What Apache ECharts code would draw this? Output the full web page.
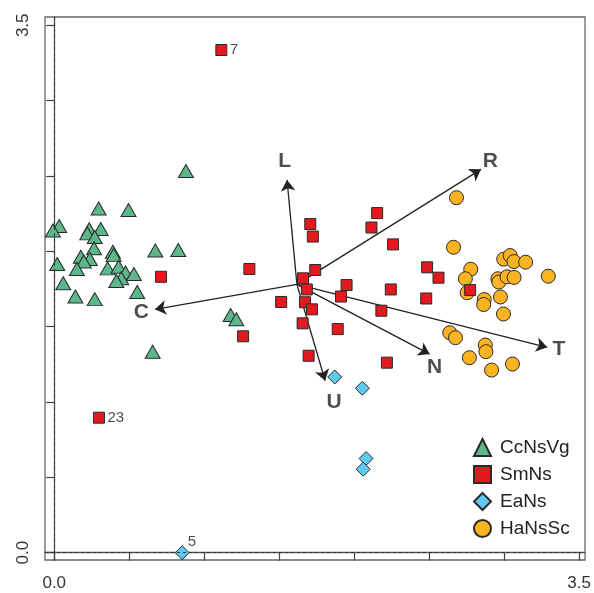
<!DOCTYPE html>
<html><head><meta charset="utf-8">
<script src="https://cdn.jsdelivr.net/npm/echarts@6/dist/echarts.min.js"></script>
<style>html,body{margin:0;padding:0;background:#fff}#c{width:594px;height:593px}</style>
</head><body><div id="c"></div>
<script>
const groupNames = ['CcNsVg', 'SmNs', 'EaNs', 'HaNsSc'];

const ccnsvgPoints = [
  [0.878,2.533],[0.296,2.284],[0.495,2.274],[0.033,2.168],[-0.009,2.138],[0.233,2.146],
  [0.310,2.148],[0.220,2.119],[0.270,2.095],[0.265,2.020],[0.391,1.997],[0.396,1.975],
  [0.674,2.005],[0.827,2.009],[0.020,1.916],[0.177,1.964],[0.237,1.949],[0.197,1.932],
  [0.151,1.883],[0.356,1.887],[0.429,1.898],[0.475,1.859],[0.531,1.849],[0.447,1.821],
  [0.414,1.803],[0.060,1.788],[0.553,1.730],[0.141,1.700],[0.270,1.683],[1.176,1.577],
  [1.214,1.549],[0.656,1.334]
];
const smnsPoints = [
  [1.114,3.336],[0.712,1.831],[1.301,1.883],[1.513,1.664],[1.259,1.436],[0.298,0.896],
  [2.153,2.254],[1.707,2.181],[2.115,2.158],[1.724,2.098],[2.259,2.046],[1.740,1.876],
  [1.659,1.821],[1.684,1.747],[1.949,1.776],[1.912,1.700],[2.244,1.747],[1.672,1.662],
  [1.718,1.615],[2.181,1.606],[1.656,1.522],[1.890,1.484],[1.696,1.307],[2.218,1.261],
  [2.486,1.894],[2.562,1.825],[2.773,1.743],[2.480,1.687]
];
const eansPoints = [
  [0.853,0.000],[1.870,1.166],[2.054,1.091],[2.079,0.625],[2.060,0.554]
];
const hanssccPoints = [
  [2.682,2.356],[2.662,2.027],[2.997,1.948],[3.040,1.972],[3.065,1.932],[3.143,1.928],
  [3.294,1.835],[2.777,1.881],[2.741,1.818],[2.958,1.818],[2.964,1.796],[3.019,1.831],
  [3.066,1.827],[2.753,1.725],[2.867,1.680],[2.863,1.647],[2.975,1.697],[2.995,1.584],
  [2.637,1.460],[2.675,1.427],[2.874,1.378],[2.878,1.334],[2.768,1.294],[3.055,1.252],
  [2.916,1.212]
];

const pointLabelTexts = ['7', '23', '5'];
const pointLabelCoords = [[1.114,3.336],[0.298,0.896],[0.853,0.000]];

const arrowNames = ['L', 'R', 'C', 'T', 'N', 'U'];
const arrowOrigin = [1.618, 1.781];
const arrowTips = [[1.552,2.473],[2.845,2.544],[0.672,1.615],[3.287,1.363],[2.503,1.318],[1.806,1.141]];
const arrowLabelCoords = [[1.537,2.595],[2.907,2.595],[0.580,1.599],[3.365,1.350],[2.536,1.234],[1.866,1.002]];

const axisTickValues = [0, 0.5, 1.0, 1.5, 2.0, 2.5, 3.0, 3.5];
const axisLabelValues = [0, 3.5];

const chart = echarts.init(document.getElementById('c'), null, {renderer: 'canvas'});
const FONT = '"Liberation Sans", Arial, Helvetica, sans-serif';
const border = {borderColor: '#2a2a2a', borderWidth: 1, opacity: 1};

function axisCommon(min, max) {
  return {
    type: 'value', min: min, max: max,
    splitLine: {show: false},
    axisLine: {show: true, lineStyle: {color: '#555', width: 1.3}},
    axisTick: {show: true, customValues: axisTickValues, length: 8, lineStyle: {color: '#444', width: 1.2}},
    axisLabel: {show: true, customValues: axisLabelValues, formatter: v => Number(v).toFixed(1),
      fontFamily: FONT, fontSize: 17, color: '#333'}
  };
}
const xAxis = axisCommon(-0.0617, 3.539);
xAxis.axisLabel.margin = 15;
const yAxis = axisCommon(-0.0484, 3.555);
yAxis.axisLabel.rotate = 90;
yAxis.axisLabel.margin = 13;

const option = {
  animation: false,
  backgroundColor: '#ffffff',
  grid: {left: 45, right: 6, top: 17, bottom: 33, show: true, borderColor: '#666', borderWidth: 1.3, backgroundColor: 'transparent'},
  xAxis: xAxis,
  yAxis: yAxis,
  legend: {
    orient: 'vertical', left: 468, top: 433,
    itemWidth: 17, itemHeight: 17, itemGap: 8,
    data: groupNames,
    textStyle: {fontFamily: FONT, fontSize: 19, color: '#222', padding: [0, 0, 0, 4]},
    selectedMode: false
  },
  series: [
    {
      type: 'scatter', name: '_ref', silent: true, data: [], z: 1,
      markLine: {
        silent: true, symbol: 'none', label: {show: false},
        lineStyle: {type: [3, 3], color: '#333', width: 1},
        data: [{xAxis: 0}, {yAxis: 0}]
      }
    },
    {
      type: 'scatter', name: '_arrows', silent: true, data: [], z: 2,
      markLine: {
        silent: true, symbol: ['none', 'arrow'], symbolSize: 11, label: {show: false},
        lineStyle: {type: 'solid', color: '#222', width: 1.3},
        emphasis: {disabled: true},
        data: arrowTips.map(t => [{coord: arrowOrigin}, {coord: t}])
      }
    },
    {
      type: 'scatter', name: 'HaNsSc', symbol: 'circle', symbolSize: 14, z: 3,
      itemStyle: Object.assign({color: '#fbb321'}, border),
      data: hanssccPoints
    },
    {
      type: 'scatter', name: 'CcNsVg', symbol: 'triangle', symbolSize: [15, 13], z: 4,
      itemStyle: Object.assign({color: '#5cb88a'}, border),
      data: ccnsvgPoints
    },
    {
      type: 'scatter', name: 'EaNs', symbol: 'diamond', symbolSize: 14, z: 4,
      itemStyle: Object.assign({color: '#5ecaf2'}, border),
      data: eansPoints
    },
    {
      type: 'scatter', name: 'SmNs', symbol: 'rect', symbolSize: 11, z: 5,
      itemStyle: Object.assign({color: '#e2191e'}, border),
      data: smnsPoints
    },
    {
      type: 'scatter', name: '_ptlabels', silent: true, z: 6, symbolSize: 1,
      itemStyle: {color: 'rgba(0,0,0,0)'},
      label: {show: true, position: 'right', distance: 8, fontFamily: FONT, fontSize: 15, color: '#222',
        formatter: p => pointLabelTexts[p.dataIndex]},
      data: pointLabelCoords.map((c, i) => i === 2 ? {value: c, label: {offset: [-3, -11]}} : c)
    },
    {
      type: 'scatter', name: '_arrowlabels', silent: true, z: 6, symbolSize: 1,
      itemStyle: {color: 'rgba(0,0,0,0)'},
      label: {show: true, position: 'inside', fontFamily: FONT, fontSize: 21, fontWeight: 'bold', color: '#222',
        formatter: p => arrowNames[p.dataIndex]},
      data: arrowLabelCoords
    }
  ]
};
chart.setOption(option);
</script>
</body></html>
